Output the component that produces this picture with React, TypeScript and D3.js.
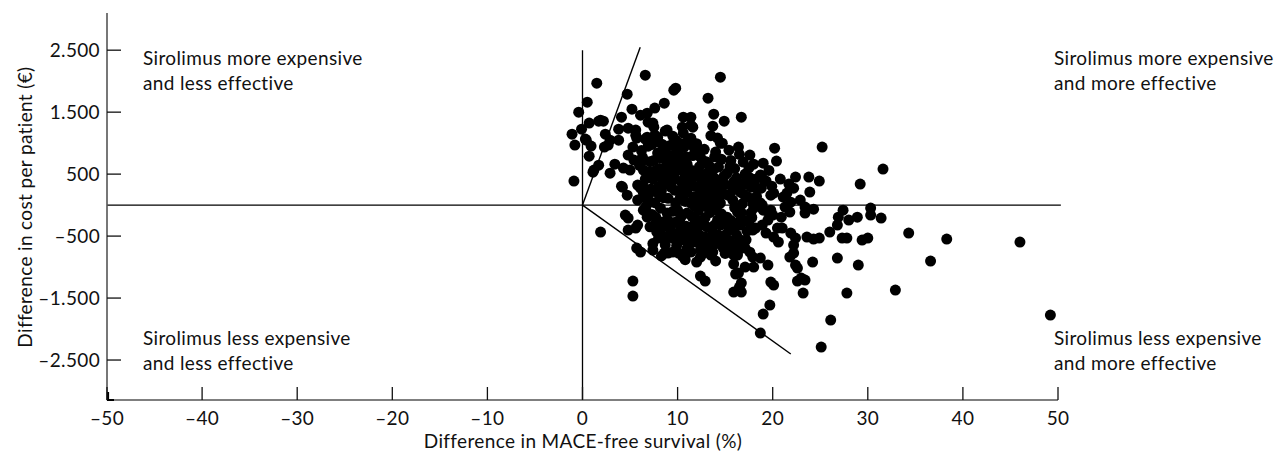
import React from 'react';
import * as d3 from 'd3';

// ---------- data ----------
const xTicks = [-50, -40, -30, -20, -10, 0, 10, 20, 30, 40, 50];
const yTicks = [2500, 1500, 500, -500, -1500, -2500];
const xTitle = 'Difference in MACE-free survival (%)';
const yTitle = 'Difference in cost per patient (€)';
const quadrantLabels = [
  ['Sirolimus more expensive', 'and less effective'],
  ['Sirolimus more expensive', 'and more effective'],
  ['Sirolimus less expensive', 'and less effective'],
  ['Sirolimus less expensive', 'and more effective'],
];
// threshold (ceiling ratio) lines: [x0, y0, x1, y1] in data units
const thresholdLines = [
  [0, 0, 6.07, 2549],
  [0, 0, 21.9, -2403],
];

// simulation results: [difference in MACE-free survival (%), difference in cost (€)]
const upperLeftPoints = [
  [-0.9, 387], [1.5, 1968], [0.5, 1661], [-0.4, 1500], [-1.1, 1145], [-0.8, 968], [-0.1, 1226],
  [0.7, 1323], [0.4, 1048], [0.9, 952], [0.7, 790], [1.2, 565], [1.7, 645], [1.7, 1355],
  [2.2, 1355], [2.4, 1145], [2.3, 936], [2.7, 968], [4.7, 1790], [5.2, 1548], [4.1, 1419],
  [6.1, 1452], [3.8, 1048], [4.8, 1242], [5.6, 1129], [2.9, 1048], [3.4, 661], [2.9, 516],
  [1.1, 532], [4.1, 306], [4.7, 161], [5.8, 323], [6.1, 274], [6.8, 113], [4.3, 597],
  [5.0, 565], [4.8, 807], [3.8, 1226], [5.3, 936], [5.7, 1081], [5.4, 726], [6.3, 774],
  [5.6, 1210], [1.9, 1371], [0.3, 1065], [4.2, 290], [5.8, 81], [6.6, 1065], [6.6, 2097],
];

const upperPoints = [
  [14.5, 2065], [9.8, 1887], [9.6, 1855], [8.6, 1645], [13.2, 1726], [6.8, 1484], [7.6, 1565],
  [7.4, 1323], [6.9, 1339], [13.8, 1468], [13.7, 1274], [14.9, 1355], [10.6, 1419], [11.4, 1419],
  [11.6, 1258], [10.5, 1258], [8.7, 1194], [7.9, 1097], [7.6, 1130], [9.8, 1048], [14.2, 1081],
  [14.7, 1000], [15.4, 887], [16.7, 1419], [16.4, 936], [17.6, 807], [16.9, 694], [20.2, 919],
  [20.4, 710], [19.0, 677], [25.2, 936], [31.6, 581], [29.2, 339], [23.8, 452], [24.9, 387],
  [23.9, 210], [22.4, 452], [21.7, 339], [22.2, 274], [21.5, 194], [20.1, 194], [19.8, 161],
  [18.8, 274], [19.9, 306], [18.7, 484], [18.9, 436], [17.7, 290], [16.7, 306], [17.0, 355],
  [18.2, 419], [16.2, 436], [16.6, 210], [17.4, 129], [21.9, 48], [22.9, 81], [17.9, 32],
  [18.9, 0], [21.1, 129], [18.2, 290], [18.7, 32],
  [15.3, 160], [16.1, 300], [16.9, 180], [17.6, 440], [18.3, 140], [19.3, 390], [17.1, 500],
  [15.6, 720], [16.5, 820], [18.0, 660], [19.6, 560], [20.8, 420],
];

const corePoints = [
  [6.4, 565], [6.4, 726], [6.8, 1097], [7.5, 1258], [8.9, 1210], [10.6, 1161], [11.4, 1290],
  [11.7, 936], [12.4, 774], [14.0, 855], [14.5, 1000], [14.3, 613], [15.2, 516], [14.5, 355],
  [13.7, 210], [12.7, 355], [12.2, 129], [11.4, 32], [10.3, 129], [9.3, 290], [8.2, 452],
  [8.9, 677], [7.9, 839], [10.1, 839], [10.6, 565], [11.7, 452], [13.1, -32], [14.5, 32],
  [15.8, 81], [15.8, 242], [6.8, 81], [6.4, 194], [6.4, 290], [6.4, -81],
  [7.3, 980], [8.0, 1020], [8.6, 870], [9.2, 960], [9.9, 890], [10.7, 940], [11.4, 1080],
  [12.0, 990], [12.8, 900], [13.5, 1120], [7.1, 700], [7.7, 560], [8.3, 760], [9.0, 640],
  [9.6, 790], [10.3, 720], [11.0, 660], [11.6, 800], [12.3, 620], [13.0, 700], [13.7, 560],
  [14.6, 740], [7.4, 420], [8.0, 300], [8.8, 500], [9.4, 380], [10.0, 560], [10.8, 460],
  [11.3, 330], [12.0, 480], [12.6, 390], [13.3, 300], [14.0, 420], [15.0, 330], [7.0, 180],
  [7.6, 40], [8.3, 230], [9.0, 110], [9.7, 240], [10.4, 380], [11.0, 210], [11.7, 130],
  [12.4, 250], [13.0, 180], [13.8, 100], [14.8, 180], [16.0, -40], [8.2, -50], [8.9, -230],
  [9.5, -100], [10.2, -240], [10.9, -340], [11.5, -180], [12.2, -80], [12.9, -200], [13.4, -120],
  [14.1, -80], [14.8, -300], [15.6, -250], [9.3, -420], [10.6, -560], [11.3, -620], [12.3, -480],
  [13.6, -650], [14.5, -560], [16.2, -480], [17.2, -560], [16.8, 20], [17.3, -420], [15.4, -700],
  [16.0, 590], [17.5, 600], [13.2, 520], [9.8, 40],
  [6.2, 880], [6.9, 950], [7.5, 720], [8.1, 590], [8.7, 350], [9.3, 520], [9.9, 670], [6.6, 420],
  [7.2, 260], [7.9, 480], [8.5, 120], [9.1, 800], [9.7, 430], [6.0, 640], [7.0, 540], [8.4, 980],
  [9.5, 1110], [6.7, -20], [7.3, -150], [8.0, 180],
  [10.2, 1000], [10.9, 780], [11.5, 560], [12.1, 870], [12.7, 480], [13.3, 640], [13.9, 780],
  [14.4, 260], [10.5, 280], [11.2, 430], [11.9, 300], [12.5, 80], [13.2, 420], [13.8, 330],
  [14.3, 140], [10.8, 60], [11.8, -20], [12.8, 20], [13.5, 40], [14.9, 470], [15.5, 620],
  [15.9, 380], [10.1, 640], [12.6, 720], [11.0, 1020],
];

const lowerPoints = [
  [23.4, -32], [30.3, -48], [19.8, -81], [21.3, -32], [23.4, -129], [24.3, -65], [27.4, -81],
  [26.9, -194], [26.8, -323], [28.0, -242], [28.9, -194], [30.3, -161], [31.4, -210], [26.0, -436],
  [27.3, -532], [27.8, -532], [29.4, -565], [30.0, -532], [23.6, -516], [24.3, -548], [21.0, -371],
  [19.3, -452], [20.1, -516], [21.9, -452], [22.4, -532], [20.6, -597], [22.2, -645], [22.2, -774],
  [21.8, -839], [24.2, -919], [26.8, -855], [29.0, -968], [22.4, -968], [22.6, -1016], [23.0, -1177],
  [23.4, -1210], [22.6, -1226], [23.2, -1419], [27.8, -1419], [32.9, -1371], [19.8, -1242],
  [20.1, -1290], [19.7, -1613], [19.0, -1758], [26.1, -1855], [18.7, -2065], [25.1, -2290],
  [16.3, -807], [17.1, -694], [17.9, -839], [18.7, -855], [19.5, -968], [17.1, -1000],
  [16.4, -1097], [16.7, -1258], [16.5, -1323], [16.7, -1403], [17.5, -274], [18.2, -371],
  [18.9, -323], [16.6, -242], [16.3, -113], [19.6, -129], [18.0, -48], [20.9, -194], [21.8, -113],
  [24.9, -532], [34.3, -452], [38.3, -548], [46.0, -597], [36.6, -903], [49.2, -1774],
  [1.9, -436], [4.5, -161], [4.8, -210], [4.8, -403], [5.6, -371], [5.7, -694], [6.1, -758],
  [7.4, -726], [5.3, -1226], [5.3, -1468], [12.4, -1145], [12.9, -1226], [8.6, -516], [9.5, -532],
  [9.9, -516], [8.6, -774], [9.5, -758], [10.5, -823], [11.4, -758], [12.4, -726], [13.5, -807],
  [12.4, -839], [13.7, -758], [11.9, -597], [12.9, -597], [13.8, -565], [15.9, -807], [15.9, -952],
  [16.1, -1113], [15.9, -1403], [6.7, -113], [7.7, -194], [8.2, -274], [9.5, -290], [10.3, -403],
  [11.4, -371], [12.4, -323], [14.5, -323], [15.0, -484], [13.7, -452], [15.6, -613],
  [20.5, -371], [19.5, -242], [20.0, -161], [19.0, -81], [17.7, -129], [16.6, -323], [17.9, -403],
  [16.6, -565], [16.3, -758], [14.8, -694], [12.7, -774], [10.1, -774], [9.0, -774], [8.0, -532],
  [9.0, -516], [10.1, -452], [7.7, -290], [6.8, -194], [15.2, -194], [14.2, -242], [13.1, -355],
  [12.1, -242], [11.0, -129], [10.0, -81], [8.9, -129], [10.6, -355], [11.7, -452], [12.9, -516],
  [14.3, -484], [15.4, -403], [5.8, -323], [18.0, -1000], [17.6, -760],
  [7.1, -350], [7.8, -430], [8.4, -360], [9.0, -330], [9.7, -280], [10.4, -180], [11.1, -500],
  [11.8, -300], [12.5, -620], [13.2, -700], [13.9, -320], [14.6, -140], [15.3, -560], [16.0, -330],
  [16.7, -120], [8.7, -640], [9.9, -650], [11.0, -700], [12.0, -420], [13.4, -530], [14.1, -620],
  [15.0, -780], [16.4, -640], [17.0, -250], [17.8, -200], [7.4, -620], [8.3, -820], [10.8, -880],
  [12.0, -920], [14.0, -900],
];

// ---------- layout ----------
const W = 1278;
const H = 454;
const FONT = 'Lato, "Noto Sans", sans-serif';
const FS = 19;
const LS = 0.35;

const locale = d3.formatLocale({
  decimal: ',',
  thousands: '.',
  grouping: [3],
  currency: ['', '€'],
  minus: '\u2013',
});
const fmt = locale.format(',d');

export default function App() {
  const x = d3.scaleLinear().domain([-50, 50]).range([107, 1058]);
  const y = d3.scaleLinear().domain([-3145, 3100]).range([400, 13]);
  const points = [...upperLeftPoints, ...upperPoints, ...corePoints, ...lowerPoints];
  const line = d3.line<number[]>().x((d) => x(d[0])).y((d) => y(d[1]));

  const x0 = x(-50);
  const yBottom = y(-3145);
  const leftLabelX = 143;
  const rightLabelX = 1054;
  const topBase = 65;
  const botBase = 345;
  const lh = 24.5;

  return (
    <svg
      width={W}
      height={H}
      viewBox={`0 0 ${W} ${H}`}
      style={{ position: 'absolute', left: 0, top: 0, background: '#fff' }}
      fontFamily={FONT}
      letterSpacing={LS}
    >
      <rect x={0} y={0} width={W} height={H} fill="#fff" />
      {/* quadrant lines */}
      <line x1={x(-50)} x2={x(50.3)} y1={y(0)} y2={y(0)} stroke="#000" strokeWidth={1.3} />
      <line x1={x(0)} x2={x(0)} y1={y(2500)} y2={yBottom} stroke="#000" strokeWidth={1.3} />
      {thresholdLines.map((l, i) => (
        <path key={i} d={line([[l[0], l[1]], [l[2], l[3]]]) || ''} stroke="#000" strokeWidth={1.4} fill="none" />
      ))}

      {/* points */}
      {points.map((p, i) => (
        <circle key={i} cx={x(p[0])} cy={y(p[1])} r={5.5} fill="#000" />
      ))}

      {/* y axis */}
      <line x1={x0} x2={x0} y1={y(3100)} y2={yBottom} stroke="#555" strokeWidth={1.6} />
      {yTicks.map((t) => (
        <g key={t}>
          <line x1={x0} x2={x0 + 14} y1={y(t)} y2={y(t)} stroke="#111" strokeWidth={1.3} />
          <text x={x0 - 7} y={y(t)} dy="0.36em" textAnchor="end" fontSize={FS} fill="#111">
            {fmt(t)}
          </text>
        </g>
      ))}
      <text
        transform={`translate(32, ${y(0) + 2}) rotate(-90)`}
        textAnchor="middle"
        fontSize={FS}
        fill="#111"
      >
        {yTitle}
      </text>

      {/* x axis */}
      <line x1={x0} x2={x(50)} y1={yBottom} y2={yBottom} stroke="#555" strokeWidth={1.6} />
      <path d={`M${x0 + 1},${yBottom - 8} V${yBottom} H${x0 + 7}`} stroke="#000" strokeWidth={2.2} fill="none" />
      {xTicks.map((t) => (
        <g key={t}>
          <line x1={x(t)} x2={x(t)} y1={yBottom} y2={yBottom - 13} stroke="#111" strokeWidth={1.3} />
          <text x={x(t)} y={yBottom + 25} textAnchor="middle" fontSize={FS} fill="#111">
            {fmt(t)}
          </text>
        </g>
      ))}
      <text x={583} y={448} textAnchor="middle" fontSize={FS} fill="#111">
        {xTitle}
      </text>

      {/* quadrant labels */}
      {quadrantLabels.map((lines, i) => {
        const lx = i % 2 === 0 ? leftLabelX : rightLabelX;
        const by = i < 2 ? topBase : botBase;
        return (
          <text key={i} x={lx} y={by} fontSize={FS} fill="#111">
            {lines.map((s, j) => (
              <tspan key={j} x={lx} y={by + j * lh}>
                {s}
              </tspan>
            ))}
          </text>
        );
      })}
    </svg>
  );
}
